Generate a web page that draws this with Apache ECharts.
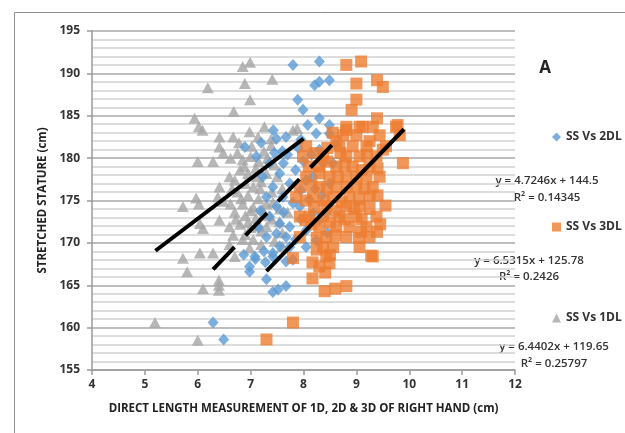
<!DOCTYPE html>
<html>
<head>
<meta charset="utf-8">
<script src="https://cdn.jsdelivr.net/npm/echarts@6/dist/echarts.min.js"></script>
<style>
  html, body { margin: 0; padding: 0; background: #fff; }
  #chart { width: 625px; height: 433px; }
</style>
</head>
<body>
<div id="chart"></div>
<script>
// SS vs direct length of 1D / 2D / 3D (right hand)
const X_TICKS = [4, 12, 1];
const Y_TICKS = [155, 195, 5];

// gray triangles — SS Vs 1DL
const ss1DL = [
  [6.85,190.8],[6.99,191.3],[6.19,188.3],[6.89,188.8],[7.41,189.3],[6.99,186.9],[6.68,185.5],[5.94,184.7],
  [6.02,183.7],[6.09,183.3],[6.98,183.1],[7.26,183.7],[7.80,183.3],[7.88,183.5],[6.41,182.5],[6.67,182.5],
  [7.14,182.5],[7.39,182.3],[7.39,181.5],[6.41,181.3],[6.00,179.6],[6.29,179.6],[6.48,180.6],[6.41,176.6],
  [6.38,175.4],[5.97,175.3],[5.72,174.3],[6.02,174.6],[6.48,174.9],[6.04,172.3],[6.41,172.7],[6.60,171.9],
  [6.10,171.7],[6.67,170.9],[5.72,168.2],[6.04,168.8],[6.29,168.8],[5.80,166.6],[6.70,168.4],[6.98,169.4],
  [6.10,164.6],[6.40,165.6],[6.40,165.0],[6.40,164.4],[5.19,160.6],[6.00,158.5],
  [6.75,180.6],[6.85,179.8],[7.00,180.2],[7.15,179.6],[7.25,180.8],[6.80,178.6],[6.95,178.2],[7.10,178.8],
  [7.30,178.2],[6.70,177.4],[6.90,177.0],[7.05,176.6],[7.20,177.2],[6.75,176.0],[6.95,175.6],[7.15,175.2],
  [6.85,174.6],[7.05,174.2],[7.30,174.6],[6.70,173.6],[6.90,173.2],[7.10,172.9],[7.25,173.4],[6.80,172.2],
  [7.00,171.8],[7.20,171.4],[6.90,171.0],[7.30,171.9],[7.55,172.5],[7.60,171.2],[7.45,170.2],[7.05,170.4],
  [6.60,177.8],[7.40,176.0],[7.50,177.8],[7.60,169.6],
  [6.62,180.0],[6.78,181.8],[7.02,181.4],[7.32,180.0],[7.45,179.2],[7.18,176.4],[6.82,175.2],[6.62,174.6],
  [7.22,174.0],[7.42,174.8],[6.95,172.4],[7.15,172.0],[7.40,172.8],[6.85,170.4],[7.20,169.8],[6.60,169.8],
  [6.72,172.8],[7.35,173.2],[7.00,173.8],[6.65,176.4],[7.12,177.8],[6.88,179.0],[7.55,174.0],[7.60,176.4],
  [7.70,173.6]
];

// blue diamonds — SS Vs 2DL
const ss2DL = [
  [7.80,191.0],[8.30,191.4],[8.21,188.6],[8.30,189.0],[8.49,189.2],[7.89,186.9],[7.99,185.7],[8.30,184.7],
  [8.08,183.9],[8.49,183.9],[8.24,182.9],[8.49,182.9],[7.43,183.3],[7.49,182.3],[7.67,182.5],[6.89,181.3],
  [6.87,168.6],[7.09,168.1],[7.42,168.8],[6.98,166.6],[7.30,165.7],[7.42,164.2],[7.52,164.5],[7.67,164.9],
  [6.29,160.6],[6.49,158.6],[7.28,167.7],[7.67,167.8],
  [7.11,180.2],[7.36,179.4],[7.23,177.8],[7.55,178.2],[7.42,176.6],[7.74,177.0],[7.30,175.4],[7.61,175.4],
  [7.49,174.3],[7.80,174.7],[7.36,173.1],[7.55,172.3],[7.74,171.9],[7.49,171.1],[7.30,170.7],[7.67,170.7],
  [7.93,174.3],[8.11,175.1],[8.18,173.5],[8.05,171.5],[8.30,172.7],[8.43,173.5],[8.24,170.3],[8.05,169.5],
  [7.74,169.5],[7.42,168.4],[7.08,168.4],[7.80,168.0],[6.98,167.2],[8.37,179.4],[8.56,179.4],[8.18,177.8],
  [8.05,177.4],[7.70,180.4],[7.90,181.2],[8.00,179.6],[7.85,178.6],[7.60,180.8],[8.30,181.0],
  [7.20,181.8],[7.45,180.6],[7.95,182.2],[8.15,180.4],[7.62,179.4],[7.95,176.2],[8.22,176.4],[7.18,173.8],
  [7.62,173.6],[7.95,172.8],[7.15,171.8],[8.45,171.2],[7.85,170.4],[7.55,169.6],[7.25,169.0],[8.35,175.6],
  [8.50,177.0],[8.60,181.6]
];

// orange squares — SS Vs 3DL
const ss3DL = [
  [8.81,191.0],[9.09,191.4],[9.00,188.8],[9.39,189.2],[9.50,188.4],[9.00,186.9],[8.91,185.7],[9.39,184.7],
  [8.81,183.3],[9.12,183.7],[9.78,183.9],[9.88,179.4],[9.09,171.3],[9.39,171.3],[9.28,168.5],[8.17,167.7],
  [8.49,167.6],[8.41,166.5],[8.17,165.8],[8.40,164.3],[8.60,164.6],[8.81,164.9],[7.80,160.6],[7.80,168.2],
  [7.30,158.6],[8.04,172.7],[8.11,173.1],
  [8.81,183.7],[9.06,183.7],[9.31,183.7],[9.75,183.7],
  [8.75,182.7],[9.00,182.7],[9.44,182.7],[9.82,182.7],
  [8.05,181.4],[8.68,181.4],[8.93,181.4],[9.19,181.4],[9.56,181.4],
  [7.99,180.2],[8.37,180.2],[8.81,180.2],[9.06,180.2],[9.38,180.2],
  [8.30,179.0],[8.62,179.0],[8.93,179.0],[9.25,179.0],
  [8.05,177.8],[8.49,177.8],[8.81,177.8],[9.19,177.8],[9.44,177.8],
  [7.93,176.6],[8.30,176.6],[8.62,176.6],[9.00,176.6],[9.31,176.6],
  [7.86,175.4],[8.18,175.4],[8.56,175.4],[8.87,175.4],[9.25,175.4],
  [8.43,174.3],[8.81,174.3],[9.06,174.3],
  [7.93,173.1],[8.37,173.1],[8.68,173.1],[9.00,173.1],[9.38,173.1],
  [8.30,171.9],[8.62,171.9],[8.87,171.9],[9.19,171.9],
  [7.93,170.7],[8.43,170.7],[8.81,170.7],[9.25,170.7],
  [8.37,169.5],[8.56,169.5],[9.06,169.5],
  [8.43,168.4],[9.31,168.4],[8.30,167.2],
  [8.55,183.0],[8.62,182.0],[9.25,182.0],[9.50,181.0],[8.45,181.2],[8.22,180.6],[8.70,180.6],[9.20,180.4],
  [8.10,179.0],[8.45,179.6],[8.78,179.2],[9.10,178.6],[9.40,178.8],[8.30,178.2],[8.65,177.8],[9.00,177.8],
  [8.15,176.8],[8.45,176.4],[8.82,176.6],[9.15,176.4],[8.05,175.0],[8.38,175.0],[8.72,174.8],[9.05,175.2],
  [9.40,175.6],[8.20,174.2],[8.60,173.8],[8.95,174.0],[9.25,174.0],[8.15,172.2],[8.50,172.4],[8.78,172.8],
  [9.10,172.8],[8.25,170.6],[8.60,170.9],[9.05,170.6],[8.50,168.6],[8.25,169.2],[9.45,172.2],[9.55,174.4]
];

// Excel trend lines: [slope, intercept], drawn over [xFrom, xTo]
const trend1DL = [4.7246, 144.5];
const trend2DL = [6.5315, 125.78];
const trend3DL = [6.4402, 119.65];
const trendRange1DL = [5.2, 8.0];
const trendRange2DL = [6.29, 8.59];
const trendRange3DL = [7.3, 9.9];

const eqLabels = [
  ["y = 4.7246x + 144.5", "R² = 0.14345"],
  ["y = 6.5315x + 125.78", "R² = 0.2426"],
  ["y = 6.4402x + 119.65", "R² = 0.25797"]
];

const COL = { blue: "#5b9bd5", orange: "#ed7d31", gray: "#a5a5a5" };
const FONT = "'Open Sans', sans-serif";

function trendLine(coef, range) {
  return range.map((x) => [x, coef[0] * x + coef[1]]);
}

function legendAt(name, icon, top) {
  return {
    data: [{ name, icon }],
    left: 547, top, orient: "vertical",
    itemWidth: 9, itemHeight: 9, itemGap: 4,
    textStyle: { fontFamily: FONT, fontSize: 12, fontWeight: "bold", color: "#333" },
    selectedMode: false
  };
}

function eqText(lines, x, y, lh) {
  return {
    type: "text", silent: true, x, y,
    style: { text: lines.join("\n"), align: "center", lineHeight: lh, font: "600 11.5px " + FONT, fill: "#333" }
  };
}

const chart = echarts.init(document.getElementById("chart"), null, { renderer: "canvas" });

const scatterBase = { type: "scatter", silent: true, animation: false };
const trendBase = {
  type: "line", symbol: "none", silent: true, animation: false, z: 5,
  lineStyle: { color: "#000", width: 4, cap: "butt" }
};

const axisFont = { fontFamily: FONT, fontSize: 12, fontWeight: "bold", color: "#333" };
const nameFont = { fontFamily: FONT, fontSize: 11.5, fontWeight: "bold", color: "#222" };

chart.setOption({
  animation: false,
  grid: { left: 92, right: 110, top: 31, bottom: 63 },
  xAxis: {
    type: "value", min: X_TICKS[0], max: X_TICKS[1], interval: X_TICKS[2],
    name: "DIRECT LENGTH MEASUREMENT OF 1D, 2D & 3D OF RIGHT HAND (cm)",
    nameLocation: "middle", nameGap: 33, nameTextStyle: nameFont,
    axisLine: { show: true, onZero: false, lineStyle: { color: "#9a9a9a", width: 1.5 } },
    axisTick: { show: true, length: 5, lineStyle: { color: "#9a9a9a", width: 1.5 } },
    axisLabel: Object.assign({ margin: 9 }, axisFont),
    splitLine: { show: false }
  },
  yAxis: {
    type: "value", min: Y_TICKS[0], max: Y_TICKS[1], interval: Y_TICKS[2],
    name: "STRETCHED STATURE (cm)",
    nameLocation: "middle", nameGap: 41, nameRotate: 90, nameTextStyle: nameFont,
    axisLine: { show: true, onZero: false, lineStyle: { color: "#9a9a9a", width: 1.5 } },
    axisTick: { show: true, length: 5, lineStyle: { color: "#9a9a9a", width: 1.5 } },
    axisLabel: Object.assign({ margin: 12 }, axisFont),
    splitLine: { show: true, lineStyle: { color: "#a9a9a9", width: 1.5 } },
    minorTick: { show: false, splitNumber: 5 },
    minorSplitLine: { show: true, lineStyle: { color: "#d2d2d2", width: 1.5 } }
  },
  legend: [
    legendAt("SS Vs 2DL", "diamond", 126),
    legendAt("SS Vs 3DL", "rect", 216),
    legendAt("SS Vs 1DL", "triangle", 307)
  ],
  graphic: [
    {
      type: "rect", silent: true,
      shape: { x: 14.5, y: 12.5, width: 700, height: 500 },
      style: { fill: "none", stroke: "#8f8f8f", lineWidth: 1 }
    },
    {
      type: "text", silent: true, x: 545, y: 68,
      style: { text: "A", align: "center", verticalAlign: "middle", font: "bold 17px " + FONT, fill: "#222" }
    },
    eqText(eqLabels[0], 547, 172, 17),
    eqText(eqLabels[1], 529, 253, 16),
    eqText(eqLabels[2], 554, 338, 17)
  ],
  series: [
    Object.assign({}, scatterBase, {
      name: "SS Vs 1DL", data: ss1DL, symbol: "triangle", symbolSize: [12, 11],
      itemStyle: { color: COL.gray }
    }),
    Object.assign({}, scatterBase, {
      name: "SS Vs 2DL", data: ss2DL, symbol: "diamond", symbolSize: [11, 12],
      itemStyle: { color: COL.blue }
    }),
    Object.assign({}, scatterBase, {
      name: "SS Vs 3DL", data: ss3DL, symbol: "rect", symbolSize: [12, 12],
      itemStyle: { color: COL.orange }
    }),
    Object.assign({}, trendBase, { name: "trend 1DL", data: trendLine(trend1DL, trendRange1DL) }),
    Object.assign({}, trendBase, {
      name: "trend 2DL", data: trendLine(trend2DL, trendRange2DL),
      lineStyle: { color: "#000", width: 4, cap: "butt", type: [31, 16] }
    }),
    Object.assign({}, trendBase, { name: "trend 3DL", data: trendLine(trend3DL, trendRange3DL) })
  ]
});
</script>
</body>
</html>
